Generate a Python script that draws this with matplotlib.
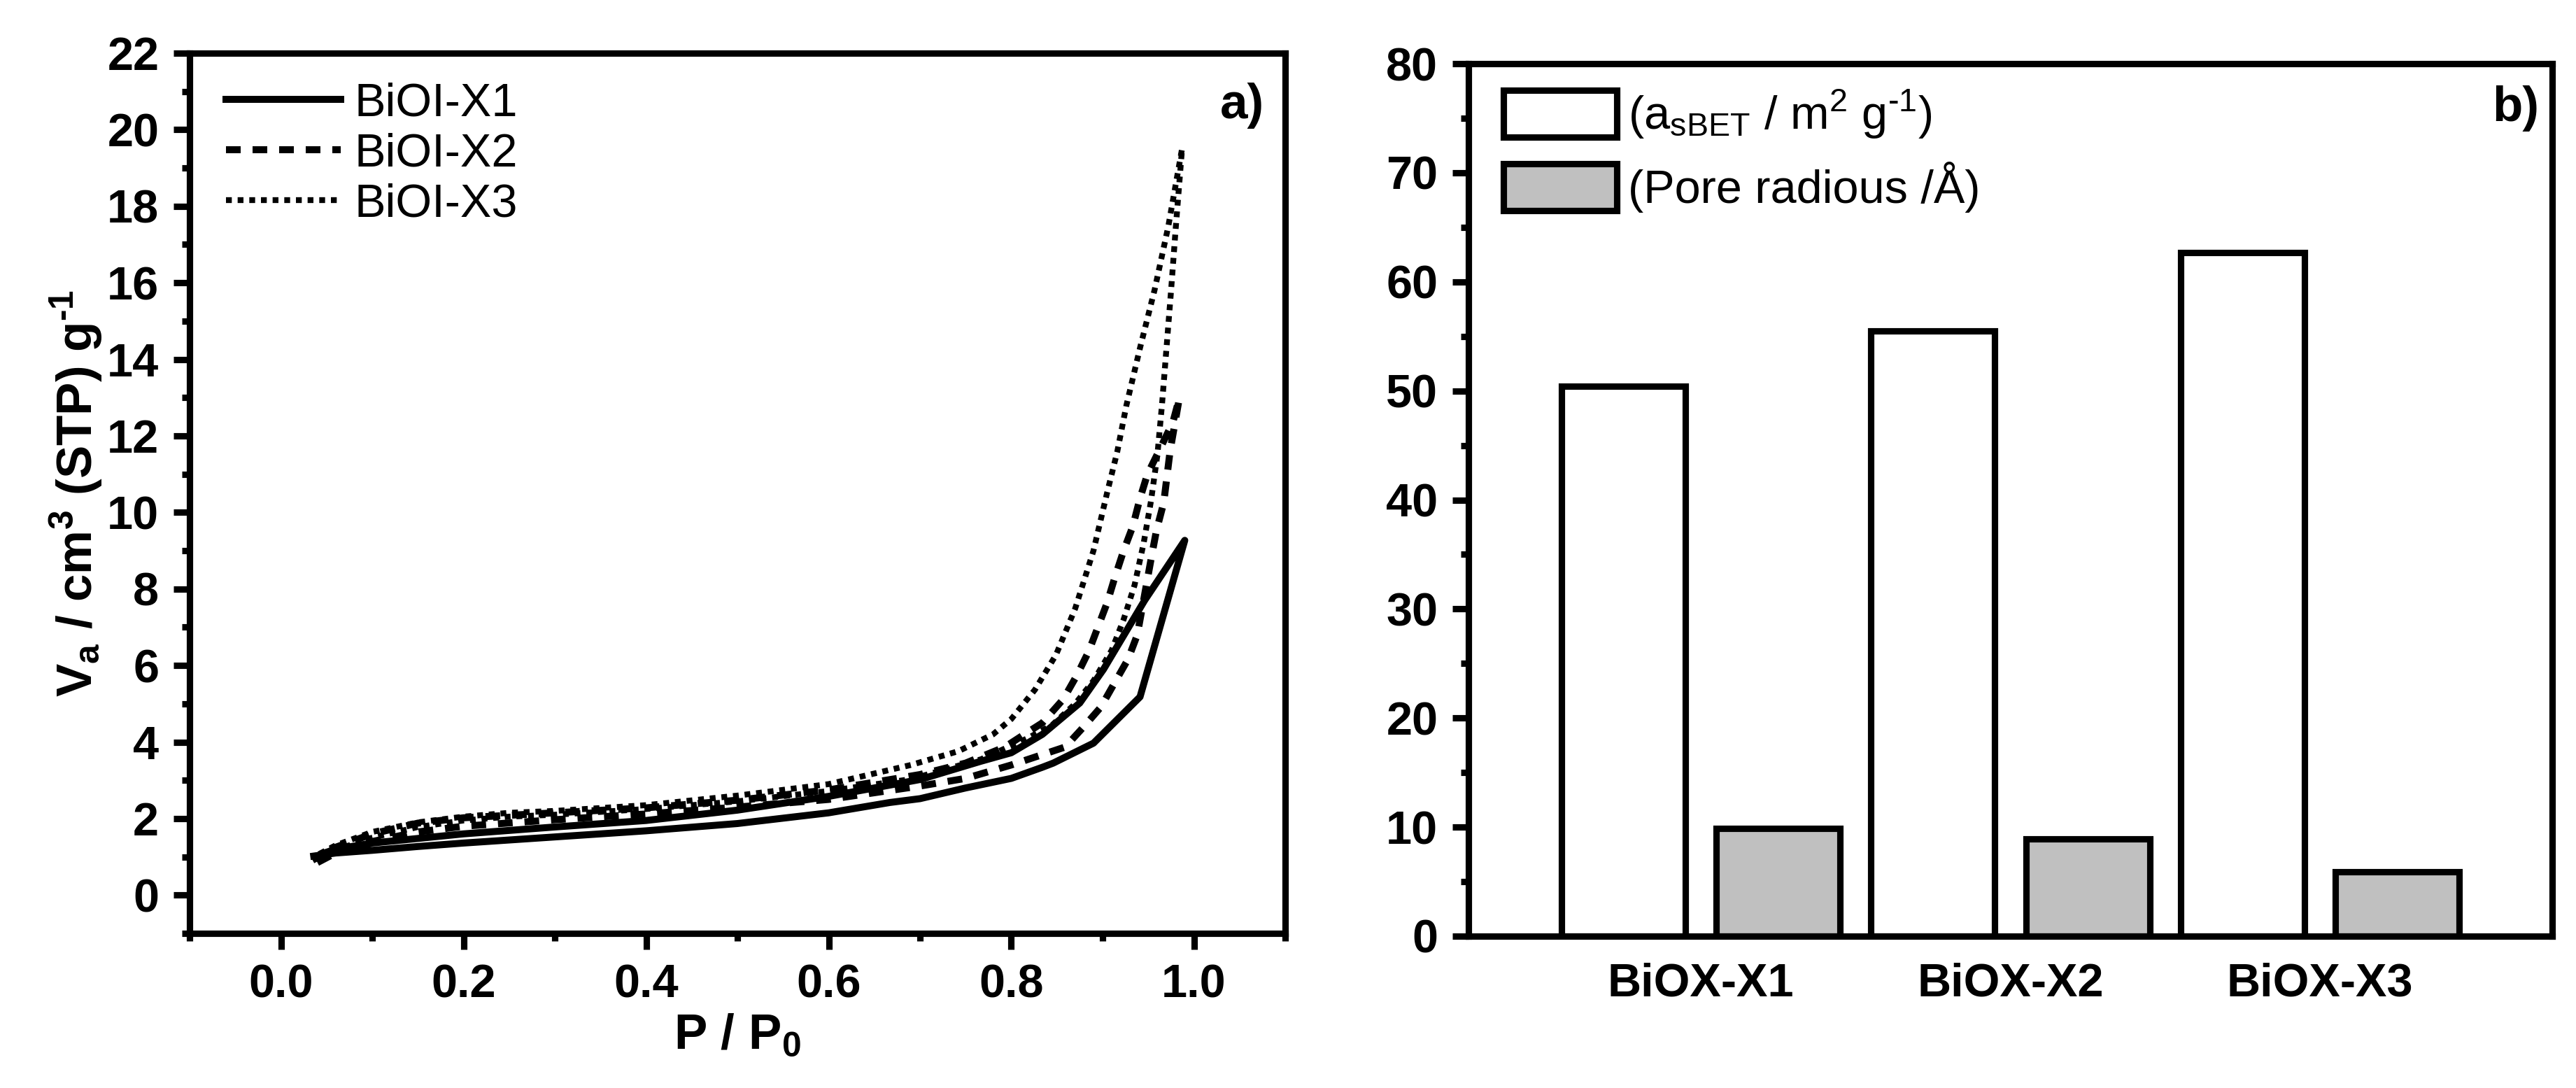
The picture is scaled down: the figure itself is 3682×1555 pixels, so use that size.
import matplotlib
matplotlib.use("Agg")
import matplotlib.pyplot as plt
from matplotlib.ticker import MultipleLocator, FormatStrFormatter
import numpy as np

plt.rcParams['font.family'] = ['Liberation Sans', 'DejaVu Sans']
plt.rcParams['mathtext.default'] = 'regular'

# ---- panel a) isotherms (adsorption up, desorption back down) ----
x1_ads_p = [0.036, 0.06, 0.10, 0.15, 0.20, 0.30, 0.40, 0.50, 0.60, 0.667, 0.70, 0.75, 0.80, 0.834, 0.846, 0.89, 0.941, 0.99]
x1_ads_v = [1.02, 1.10, 1.17, 1.27, 1.36, 1.52, 1.68, 1.87, 2.15, 2.42, 2.52, 2.80, 3.05, 3.34, 3.45, 3.97, 5.18, 9.27]
x1_des_p = [0.99, 0.946, 0.901, 0.875, 0.834, 0.80, 0.767, 0.70, 0.60, 0.50, 0.40, 0.30, 0.20, 0.10, 0.06, 0.045]
x1_des_v = [9.27, 7.70, 5.90, 5.02, 4.20, 3.72, 3.50, 3.02, 2.58, 2.22, 1.95, 1.78, 1.60, 1.36, 1.20, 1.08]

x2_ads_p = [0.04, 0.06, 0.10, 0.15, 0.20, 0.30, 0.40, 0.50, 0.60, 0.70, 0.75, 0.80, 0.859, 0.879, 0.898,
            0.913, 0.928, 0.938, 0.954, 0.959, 0.967, 0.974, 0.984]
x2_ads_v = [0.85, 1.10, 1.40, 1.65, 1.80, 1.97, 2.12, 2.30, 2.50, 2.85, 3.05, 3.40, 3.87, 4.39, 4.91,
            5.54, 6.17, 6.80, 8.90, 9.53, 10.26, 11.62, 12.98]
x2_des_p = [0.984, 0.977, 0.962, 0.949, 0.941, 0.933, 0.923, 0.913, 0.905, 0.895, 0.885, 0.872, 0.857, 0.834,
            0.813, 0.793, 0.75, 0.70, 0.60, 0.50, 0.40, 0.30, 0.20, 0.15, 0.10, 0.06, 0.04]
x2_des_v = [12.98, 12.36, 11.62, 10.99, 10.37, 9.63, 9.00, 8.27, 7.64, 7.01, 6.38, 5.75, 5.12, 4.50,
            4.18, 3.87, 3.45, 3.15, 2.75, 2.48, 2.28, 2.15, 2.02, 1.88, 1.60, 1.25, 1.00]

x3_ads_p = [0.035, 0.05, 0.10, 0.15, 0.20, 0.25, 0.30, 0.40, 0.50, 0.60, 0.69, 0.767, 0.818, 0.845, 0.87, 0.89,
            0.91, 0.923, 0.935, 0.945, 0.953, 0.96, 0.965, 0.97, 0.975, 0.98, 0.987]
x3_ads_v = [0.90, 1.10, 1.50, 1.78, 1.95, 2.05, 2.10, 2.25, 2.45, 2.72, 3.03, 3.55, 4.10, 4.45, 5.00, 5.60,
            6.40, 7.20, 8.10, 9.20, 10.30, 11.50, 12.80, 14.30, 15.80, 17.40, 19.50]
x3_des_p = [0.987, 0.972, 0.957, 0.941, 0.926, 0.916, 0.905, 0.890, 0.870, 0.849, 0.826, 0.80, 0.78, 0.742,
            0.69, 0.60, 0.50, 0.40, 0.30, 0.25, 0.20, 0.15, 0.10, 0.06, 0.04]
x3_des_v = [19.50, 17.48, 15.82, 14.30, 12.79, 11.58, 10.52, 9.00, 7.49, 6.28, 5.37, 4.60, 4.20, 3.76,
            3.40, 2.90, 2.60, 2.35, 2.20, 2.15, 2.05, 1.90, 1.65, 1.30, 1.05]

series_labels = ['BiOI-X1', 'BiOI-X2', 'BiOI-X3']

# ---- panel b) bars ----
samples = ['BiOX-X1', 'BiOX-X2', 'BiOX-X3']
area_sbet = [50.4, 55.5, 62.7]
pore_radius = [9.9, 8.9, 5.9]

W, H = 3682, 1555
DPI = 300
fig = plt.figure(figsize=(W / DPI, H / DPI), dpi=DPI)

FS = 16
LW_AX = 2.2
HY = '\u2010'  # short hyphen for "-1" exponents

def style_axes(ax):
    for s in ax.spines.values():
        s.set_linewidth(LW_AX)
    ax.tick_params(which='both', direction='out', top=False, right=False, width=LW_AX,
                   labelsize=FS, pad=5)
    ax.tick_params(which='major', length=5.5)
    ax.tick_params(which='minor', length=2.6)
    for t in ax.get_xticklabels() + ax.get_yticklabels():
        t.set_fontweight('bold')

# left panel
ax1 = fig.add_axes([271 / W, 1 - 1334 / H, (1837 - 271) / W, (1334 - 76) / H])
lw = 2.4
ax1.plot(x1_ads_p + x1_des_p, x1_ads_v + x1_des_v, color='black', lw=lw, ls='-', label=series_labels[0])
ax1.plot(x2_ads_p + x2_des_p, x2_ads_v + x2_des_v, color='black', lw=lw, ls=(0, (2.1, 1.7)), label=series_labels[1])
ax1.plot(x3_ads_p + x3_des_p, x3_ads_v + x3_des_v, color='black', lw=2.0, ls=(0, (1.0, 1.0)), label=series_labels[2])
ax1.set_xlim(-0.1, 1.1)
ax1.set_ylim(-1, 22)
ax1.xaxis.set_major_locator(MultipleLocator(0.2))
ax1.xaxis.set_minor_locator(MultipleLocator(0.1))
ax1.yaxis.set_major_locator(MultipleLocator(2))
ax1.yaxis.set_minor_locator(MultipleLocator(1))
ax1.xaxis.set_major_formatter(FormatStrFormatter('%.1f'))
style_axes(ax1)
ax1.set_xlabel(r'P / P$_\mathregular{0}$', fontsize=FS + 1, fontweight='bold', labelpad=2)
ax1.set_ylabel(r'V$_\mathregular{a}$ / cm$^\mathregular{3}$ (STP) g$^\mathregular{' + HY + '1}$',
               fontsize=FS + 1, fontweight='bold', labelpad=1)
ax1.legend(loc='upper left', bbox_to_anchor=(0.033, 0.967), frameon=False, fontsize=FS,
           handlelength=2.46, handletextpad=0.3, labelspacing=0.15, borderpad=0, borderaxespad=0)
ax1.text(0.981, 0.940, 'a)', transform=ax1.transAxes, ha='right', va='center',
         fontsize=FS + 1, fontweight='bold')

# right panel
ax2 = fig.add_axes([2099 / W, 1 - 1338 / H, (3648 - 2099) / W, (1338 - 91) / H])
pos = np.arange(1, len(samples) + 1)
bw = 0.40
ax2.bar(pos - 0.25, area_sbet, bw, color='white', edgecolor='black', linewidth=2.2,
        label=r'(a$_\mathregular{sBET}$ / m$^\mathregular{2}$ g$^\mathregular{' + HY + '1}$)')
ax2.bar(pos + 0.25, pore_radius, bw, color='#c0c0c0', edgecolor='black', linewidth=2.2,
        label='(Pore radious /Å)')
ax2.set_xlim(0.25, 3.75)
ax2.set_ylim(0, 80)
ax2.set_xticks(pos)
ax2.set_xticklabels(samples)
ax2.yaxis.set_major_locator(MultipleLocator(10))
ax2.yaxis.set_minor_locator(MultipleLocator(5))
style_axes(ax2)
ax2.tick_params(axis='x', which='both', length=0, pad=9)
ax2.legend(loc='upper left', bbox_to_anchor=(0.032, 0.972), frameon=False, fontsize=FS,
           handlelength=2.43, handleheight=1.16, handletextpad=0.25, labelspacing=0.45,
           borderpad=0, borderaxespad=0)
ax2.text(0.988, 0.949, 'b)', transform=ax2.transAxes, ha='right', va='center',
         fontsize=FS + 1, fontweight='bold')

fig.savefig('out.png', dpi=DPI, facecolor='white')
